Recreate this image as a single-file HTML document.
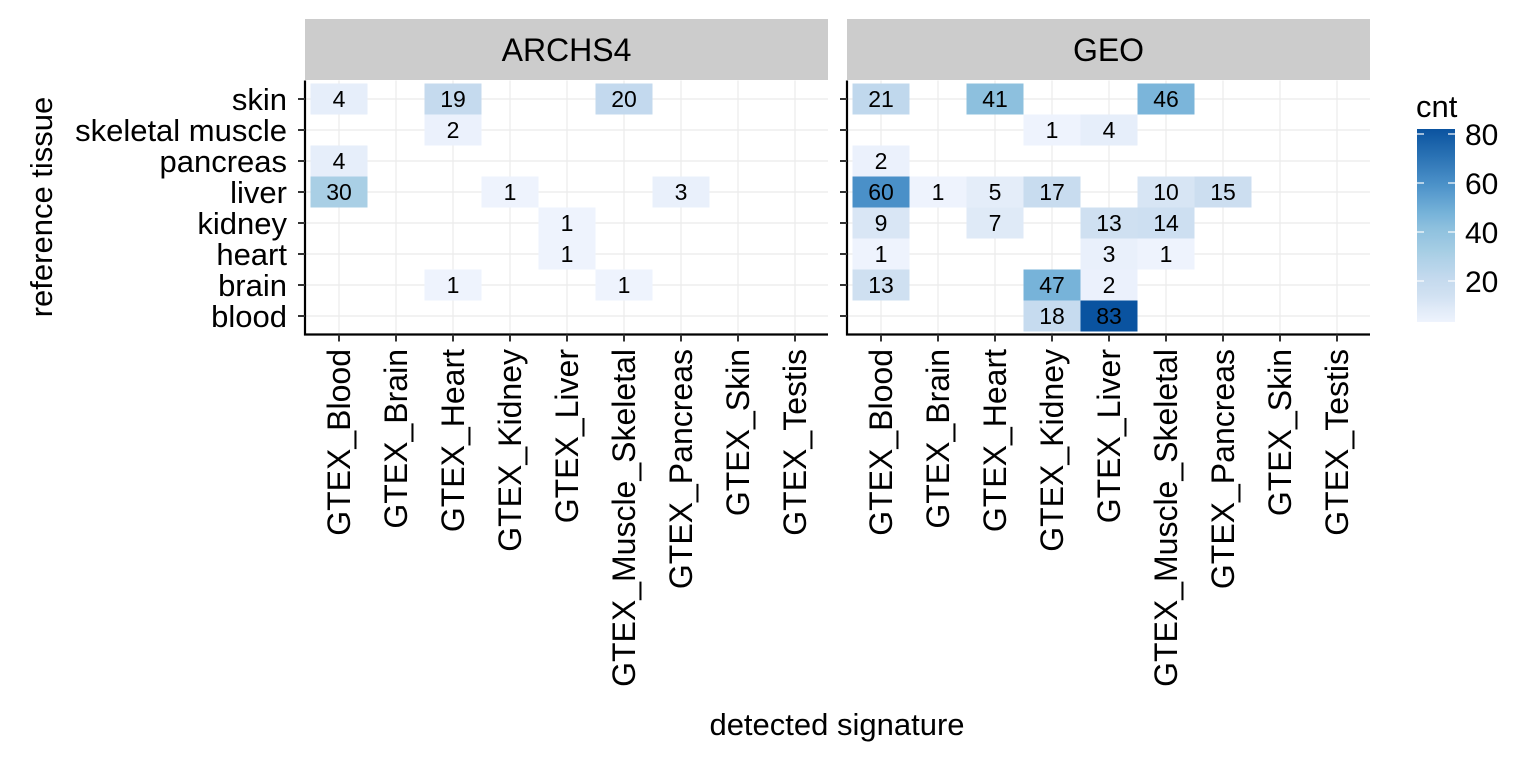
<!DOCTYPE html>
<html><head><meta charset="utf-8"><style>
html,body{margin:0;padding:0;background:#fff}
svg text{font-family:"Liberation Sans",Arial,sans-serif}
</style></head><body>
<svg id="chart" width="1536" height="768" viewBox="0 0 1536 768" xmlns="http://www.w3.org/2000/svg"></svg>
<script>
const rows = ["skin","skeletal muscle","pancreas","liver","kidney","heart","brain","blood"];
const cols = ["GTEX_Blood","GTEX_Brain","GTEX_Heart","GTEX_Kidney","GTEX_Liver","GTEX_Muscle_Skeletal","GTEX_Pancreas","GTEX_Skin","GTEX_Testis"];
const panels = ["ARCHS4","GEO"];
// [row, col, cnt]
const archs4Cells = [
 ["skin","GTEX_Blood",4],["skin","GTEX_Heart",19],["skin","GTEX_Muscle_Skeletal",20],
 ["skeletal muscle","GTEX_Heart",2],
 ["pancreas","GTEX_Blood",4],
 ["liver","GTEX_Blood",30],["liver","GTEX_Kidney",1],["liver","GTEX_Pancreas",3],
 ["kidney","GTEX_Liver",1],
 ["heart","GTEX_Liver",1],
 ["brain","GTEX_Heart",1],["brain","GTEX_Muscle_Skeletal",1]
];
const geoCells = [
 ["skin","GTEX_Blood",21],["skin","GTEX_Heart",41],["skin","GTEX_Muscle_Skeletal",46],
 ["skeletal muscle","GTEX_Kidney",1],["skeletal muscle","GTEX_Liver",4],
 ["pancreas","GTEX_Blood",2],
 ["liver","GTEX_Blood",60],["liver","GTEX_Brain",1],["liver","GTEX_Heart",5],["liver","GTEX_Kidney",17],["liver","GTEX_Muscle_Skeletal",10],["liver","GTEX_Pancreas",15],
 ["kidney","GTEX_Blood",9],["kidney","GTEX_Heart",7],["kidney","GTEX_Liver",13],["kidney","GTEX_Muscle_Skeletal",14],
 ["heart","GTEX_Blood",1],["heart","GTEX_Liver",3],["heart","GTEX_Muscle_Skeletal",1],
 ["brain","GTEX_Blood",13],["brain","GTEX_Kidney",47],["brain","GTEX_Liver",2],
 ["blood","GTEX_Kidney",18],["blood","GTEX_Liver",83]
];
const legendTicks = [20,40,60,80];

const NS="http://www.w3.org/2000/svg";
const svg=document.getElementById('chart');
function mk(tag,attrs,parent){const e=document.createElementNS(NS,tag);for(const k in attrs)e.setAttribute(k,attrs[k]);(parent||svg).appendChild(e);return e;}

const panelX=[305,847], panelW=523, panelTop=80.5, panelBot=334.5;
const colStep=57, rowStep=31;
function xScale(p,c){return panelX[p]+34+cols.indexOf(c)*colStep;}
function yScale(r){return 99+rows.indexOf(r)*rowStep;}
const cStops=[[1,[238,243,253]],[13,[207,224,241]],[20,[195,217,238]],[30,[169,207,229]],[41,[141,192,222]],[47,[119,179,217]],[60,[74,144,200]],[83,[10,83,160]]];
function color(v){
 if(v<=cStops[0][0])return 'rgb('+cStops[0][1]+')';
 for(let i=1;i<cStops.length;i++){if(v<=cStops[i][0]){const a=cStops[i-1],b=cStops[i],t=(v-a[0])/(b[0]-a[0]);
  return 'rgb('+a[1].map((x,j)=>Math.round(x+(b[1][j]-x)*t)).join(',')+')';}}
 return 'rgb('+cStops[cStops.length-1][1]+')';
}
const data=[archs4Cells,geoCells];
panels.forEach((pn,p)=>{
 const g=mk('g',{});
 
 
 const strip=mk('rect',{x:panelX[p],y:19,width:panelW,height:61,fill:'#cccccc'},g);
 
 
 const st=mk('text',{x:panelX[p]+panelW/2,y:61,'font-size':32,'text-anchor':'middle',fill:'#000'},g);
 st.textContent=pn;
 
 
 cols.forEach(c=>{const l=mk('line',{x1:xScale(p,c),x2:xScale(p,c),y1:panelTop,y2:panelBot,stroke:'#ebebeb','stroke-width':1.2},g);
  });
 rows.forEach(r=>{const l=mk('line',{x1:panelX[p],x2:panelX[p]+panelW,y1:yScale(r),y2:yScale(r),stroke:'#ebebeb','stroke-width':1.2},g);
  });
 data[p].forEach(d=>{
  const cx=xScale(p,d[1]),cy=yScale(d[0]);
  const rc=mk('rect',{x:cx-colStep/2,y:cy-rowStep/2,width:colStep,height:rowStep,fill:color(d[2])},g);
  
  
  const t=mk('text',{x:cx,y:cy+8,'font-size':23,'text-anchor':'middle',fill:'#000'},g);
  t.textContent=d[2];
  
  
 });
 mk('line',{x1:panelX[p],x2:panelX[p],y1:panelTop,y2:panelBot+1,stroke:'#000','stroke-width':2.2},g);
 mk('line',{x1:panelX[p]-1,x2:panelX[p]+panelW,y1:panelBot,y2:panelBot,stroke:'#000','stroke-width':2.2},g);
 rows.forEach(r=>mk('line',{x1:panelX[p]-7,x2:panelX[p],y1:yScale(r),y2:yScale(r),stroke:'#333','stroke-width':2},g));
 cols.forEach(c=>{
  const x=xScale(p,c);
  mk('line',{x1:x,x2:x,y1:panelBot,y2:panelBot+7,stroke:'#333','stroke-width':2},g);
  const t=mk('text',{x:0,y:0,'font-size':32,'text-anchor':'end',fill:'#000',transform:'translate('+(x+11)+',349) rotate(-90)'},g);
  t.textContent=c;
  
  
 });
});
rows.forEach(r=>{
 const t=mk('text',{x:287,y:yScale(r)+11,'font-size':31,'text-anchor':'end',fill:'#000'});
 t.textContent=r;
 
 
});
const yt=mk('text',{x:0,y:0,'font-size':31,'text-anchor':'middle',fill:'#000',transform:'translate(52,207) rotate(-90)'});
yt.textContent='reference tissue';


const xt=mk('text',{x:837,y:735,'font-size':31,'text-anchor':'middle',fill:'#000'});
xt.textContent='detected signature';


const lg=mk('g',{});


const lt=mk('text',{x:1416,y:117,'font-size':31,fill:'#000'},lg);
lt.textContent='cnt';


const defs=mk('defs',{},lg);
const grad=mk('linearGradient',{id:'lgrad',x1:0,y1:1,x2:0,y2:0},defs);
const vmin=1,vmax=83,barTop=129,barBot=322;
function ly(v){return 134+(80-v)*2.45;}
for(let v=vmin;v<=vmax;v+=2){mk('stop',{offset:((v-vmin)/(vmax-vmin)).toFixed(3),'stop-color':color(v)},grad);}
const bar=mk('rect',{x:1417,y:barTop,width:38,height:barBot-barTop,fill:'url(#lgrad)'},lg);


legendTicks.forEach(v=>{
 const y=ly(v);
 mk('line',{x1:1417,x2:1424,y1:y,y2:y,stroke:'#fff','stroke-width':1.2},lg);
 mk('line',{x1:1448,x2:1455,y1:y,y2:y,stroke:'#fff','stroke-width':1.2},lg);
 const t=mk('text',{x:1465,y:y+11,'font-size':30,fill:'#000'},lg);
 t.textContent=v;
 
 
});
</script>
</body></html>
